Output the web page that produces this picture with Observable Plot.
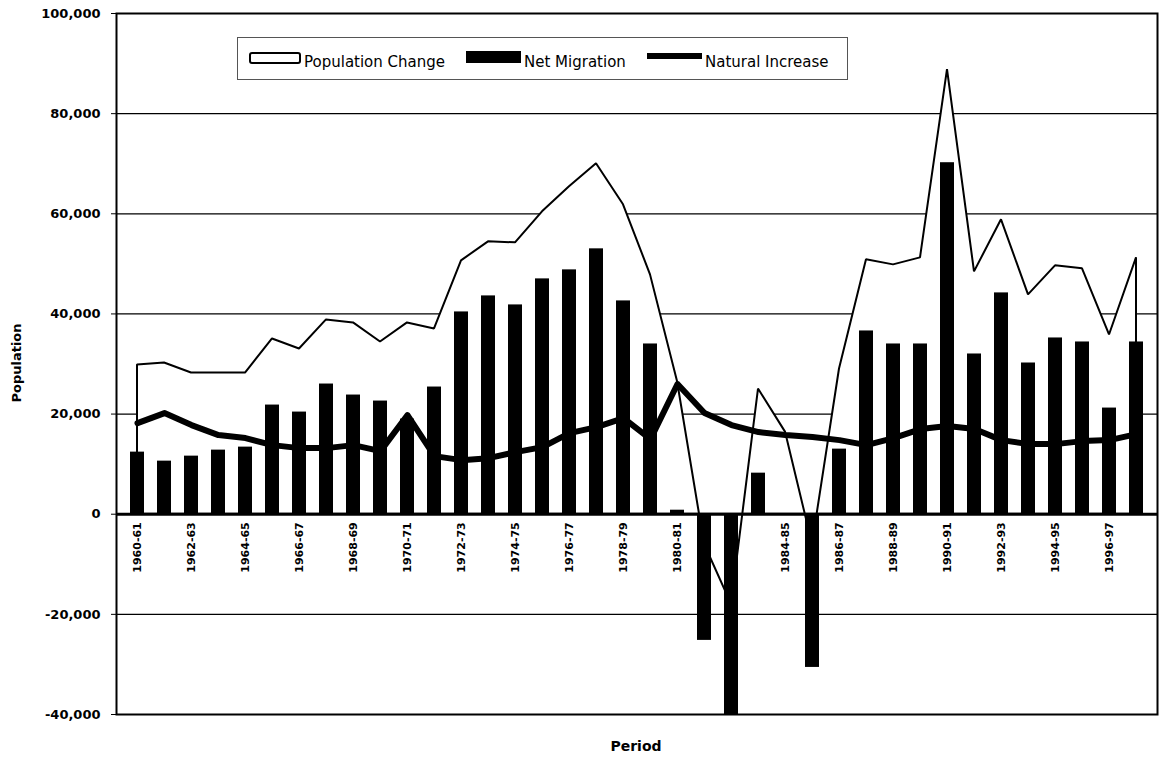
<!DOCTYPE html>
<html>
<head>
<meta charset="utf-8">
<script src="https://cdn.jsdelivr.net/npm/d3@7"></script>
<script src="https://cdn.jsdelivr.net/npm/@observablehq/plot@0.6"></script>
<style>
  body { margin: 0; background: #fff; }
  #wrap { position: relative; width: 1162px; height: 764px; font-family: "DejaVu Sans", sans-serif; color: #000; }
  #legend { position: absolute; left: 237px; top: 37px; width: 611px; height: 43px; border: 1px solid #555; box-sizing: border-box; background: #fff; }
  .sw { position: absolute; box-sizing: border-box; }
  .lt { position: absolute; top: 15px; font-size: 15px; line-height: 18px; white-space: nowrap; }
  #ytitle { position: absolute; left: 16px; top: 363px; transform: translate(-50%, -50%) rotate(-90deg); font-size: 13px; font-weight: bold; white-space: nowrap; }
  #xtitle { position: absolute; left: 636px; top: 746px; transform: translate(-50%, -50%); font-size: 14px; font-weight: bold; }
</style>
</head>
<body>
<div id="wrap">
  <div id="chart"></div>
  <div id="legend"></div>
  <div id="ytitle"></div>
  <div id="xtitle"></div>
</div>
<script>
// ---- data ----
const periods = ["1960-61","1961-62","1962-63","1963-64","1964-65","1965-66","1966-67","1967-68","1968-69","1969-70",
  "1970-71","1971-72","1972-73","1973-74","1974-75","1975-76","1976-77","1977-78","1978-79","1979-80",
  "1980-81","1981-82","1982-83","1983-84","1984-85","1985-86","1986-87","1987-88","1988-89","1989-90",
  "1990-91","1991-92","1992-93","1993-94","1994-95","1995-96","1996-97","1997-98"];
const populationChange = [29800, 30200, 28200, 28200, 28200, 35000, 33000, 38800, 38200, 34400,
  38200, 37000, 50600, 54400, 54200, 60400, 65400, 70000, 61800, 47800,
  26500, -6000, -18000, 25000, 16400, -6000, 29000, 50800, 49800, 51200,
  88800, 48400, 58800, 43800, 49600, 49000, 35800, 51200];
const netMigration = [12400, 10600, 11600, 12800, 13400, 21800, 20400, 26000, 23800, 22600,
  19000, 25400, 40400, 43600, 41800, 47000, 48800, 53000, 42600, 34000,
  800, -25200, -40000, 8200, 0, -30600, 13000, 36600, 34000, 34000,
  70200, 32000, 44200, 30200, 35200, 34400, 21200, 34400];
const naturalIncrease = [18200, 20200, 17800, 15800, 15200, 13800, 13200, 13200, 13800, 12600,
  19800, 11600, 10800, 11200, 12400, 13400, 16200, 17400, 19200, 15000,
  26000, 20200, 17800, 16400, 15800, 15400, 14800, 13800, 15200, 17000,
  17600, 17000, 14800, 14000, 14000, 14600, 14800, 16000];
const yTicks = [-40000, -20000, 0, 20000, 40000, 60000, 80000, 100000];
const xTickLabels = periods.filter((d, i) => i % 2 === 0);
const seriesNames = ["Population Change", "Net Migration", "Natural Increase"];
const axisTitles = {x: "Period", y: "Population"};

// ---- table ----
const rows = periods.map((p, i) => ({
  period: p,
  change: populationChange[i],
  migration: netMigration[i],
  natural: naturalIncrease[i]
}));

const fmt = d => d.toLocaleString("en-US");

const chart = Plot.plot({
  width: 1162,
  height: 764,
  marginLeft: 116,
  marginRight: 5,
  marginTop: 13,
  marginBottom: 50,
  style: {fontFamily: "DejaVu Sans, sans-serif", fontSize: "13px", fontWeight: "bold", background: "#fff", color: "#000"},
  x: {domain: periods, paddingInner: 0.5, paddingOuter: 0.25, axis: null},
  y: {domain: [-40000, 100000], ticks: yTicks, tickFormat: fmt, tickSize: 5, tickPadding: 11, label: null},
  marks: [
    Plot.ruleY(yTicks.filter(d => d !== 0), {stroke: "#000", strokeWidth: 1.2}),
    Plot.areaY(rows, {x: "period", y: "change", fill: "#fff", stroke: "#000", strokeWidth: 2, strokeLinejoin: "miter"}),
    Plot.ruleY([0], {stroke: "#000", strokeWidth: 3}),
    Plot.barY(rows, {x: "period", y: "migration", fill: "#000"}),
    Plot.lineY(rows, {x: "period", y: "natural", stroke: "#000", strokeWidth: 6, strokeLinejoin: "round"}),
    Plot.text(xTickLabels, {x: d => d, y: () => 0, text: d => d, rotate: -90, textAnchor: "end", lineAnchor: "middle", dy: 8, fontSize: 11, fontWeight: "bold"}),
    Plot.frame({stroke: "#000", strokeWidth: 2})
  ]
});
document.getElementById("chart").appendChild(chart);

// ---- legend & titles ----
const legend = document.getElementById("legend");
const items = [
  {name: seriesNames[0], sw: {left: 11, top: 14, width: 52, height: 12, border: "2px solid #000", borderRadius: "3px", background: "#fff"}, tx: 66},
  {name: seriesNames[1], sw: {left: 228, top: 13, width: 55, height: 12, background: "#000"}, tx: 286},
  {name: seriesNames[2], sw: {left: 409, top: 15, width: 55, height: 6, background: "#000"}, tx: 467}
];
for (const it of items) {
  const s = document.createElement("div");
  s.className = "sw";
  for (const [k, v] of Object.entries(it.sw)) s.style[k] = typeof v === "number" ? v + "px" : v;
  legend.appendChild(s);
  const t = document.createElement("div");
  t.className = "lt";
  t.style.left = it.tx + "px";
  t.textContent = it.name;
  legend.appendChild(t);
}
document.getElementById("ytitle").textContent = axisTitles.y;
document.getElementById("xtitle").textContent = axisTitles.x;
</script>
</body>
</html>
